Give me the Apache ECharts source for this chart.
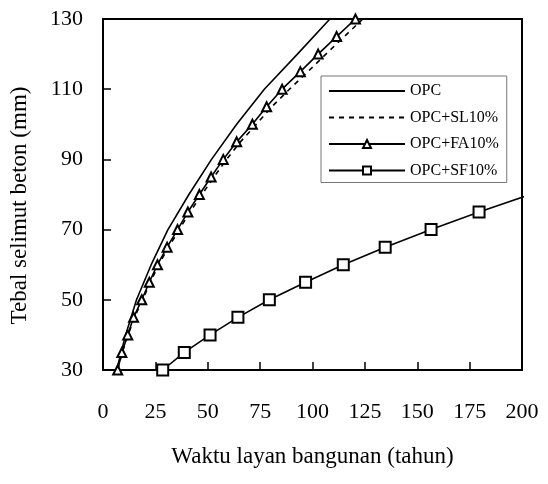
<!DOCTYPE html>
<html>
<head>
<meta charset="utf-8">
<script src="https://cdn.jsdelivr.net/npm/echarts@6/dist/echarts.min.js"></script>
<style>
    html, body { margin: 0; padding: 0; background: #fff; }
    #chart { width: 548px; height: 484px; }
</style>
</head>
<body>
<div id="chart"></div>
<script>
    // tebal selimut (mm) untuk FA dan SL
    var coverY = [30, 35, 40, 45, 50, 55, 60, 65, 70, 75, 80, 85, 90, 95, 100, 105, 110, 115, 120, 125, 130];
    var faX = [7.0, 9.0, 11.8, 14.6, 18.5, 22.1, 26.0, 30.6, 35.6, 40.5, 46.0, 51.6, 57.4, 63.8, 71.3, 78.1, 85.5, 94.2, 102.7, 111.5, 120.5];
    var slX = [7.0, 9.2, 12.0, 15.0, 18.9, 22.6, 26.6, 31.3, 36.4, 41.5, 47.2, 53.0, 59.0, 65.6, 73.2, 80.6, 89.0, 97.8, 106.4, 115.2, 124.0];

    // OPC tiap 10 mm
    var opcY = [30, 40, 50, 60, 70, 80, 90, 100, 110, 120, 130];
    var opcX = [6.5, 10.8, 16.0, 23.0, 31.0, 41.0, 51.8, 63.8, 77.0, 92.8, 108.3];

    // OPC+SF10%
    var sfY = [30, 35, 40, 45, 50, 55, 60, 65, 70, 75, 80];
    var sfX = [28.5, 38.8, 51.1, 64.4, 79.4, 96.7, 114.7, 134.7, 156.6, 179.5, 204];

    var xTicks = { min: 0, max: 200, interval: 25 };
    var yTicks = { min: 30, max: 130, interval: 20 };

    var font = "'Times New Roman', 'Liberation Serif', serif";

    function pairs(xs, ys) {
        var out = [];
        for (var i = 0; i < xs.length; i++) {
            out.push([xs[i], ys[i]]);
        }
        return out;
    }

    var sfData = pairs(sfX, sfY);
    // titik terakhir hanya garis, keluar sedikit dari kotak
    sfData[sfData.length - 1] = { value: sfData[sfData.length - 1], symbol: 'none' };

    var myChart = echarts.init(document.getElementById('chart'));
    var option = {
        backgroundColor: '#fff',
        animation: false,
        grid: {
            left: 103,
            right: 26,
            top: 19,
            bottom: 114,
            show: true,
            borderColor: '#000',
            borderWidth: 2
        },
        legend: {
            orient: 'vertical',
            left: 321,
            top: 76,
            padding: [7, 8, 4, 7],
            itemGap: 10.5,
            itemWidth: 76,
            itemHeight: 10,
            borderColor: '#777',
            borderWidth: 1,
            textStyle: { fontFamily: font, fontSize: 16, color: '#000' },
            data: [
                { name: 'OPC', itemStyle: { opacity: 0 } },
                { name: 'OPC+SL10%', itemStyle: { opacity: 0 } },
                'OPC+FA10%',
                'OPC+SF10%'
            ]
        },
        xAxis: {
            type: 'value',
            min: xTicks.min,
            max: xTicks.max,
            interval: xTicks.interval,
            name: 'Waktu layan bangunan (tahun)',
            nameLocation: 'middle',
            nameGap: 75,
            nameTextStyle: { fontFamily: font, fontSize: 23, color: '#000' },
            axisLine: { lineStyle: { color: '#000', width: 2 } },
            axisTick: { inside: true, length: 8, lineStyle: { color: '#000', width: 1.5 } },
            axisLabel: { fontFamily: font, fontSize: 22, color: '#000', margin: 31 },
            splitLine: { show: false }
        },
        yAxis: {
            type: 'value',
            min: yTicks.min,
            max: yTicks.max,
            interval: yTicks.interval,
            name: 'Tebal selimut beton (mm)',
            nameLocation: 'middle',
            nameGap: 72,
            nameTextStyle: { fontFamily: font, fontSize: 23, color: '#000', padding: [0, 22, 0, 0] },
            axisLine: { lineStyle: { color: '#000', width: 2 } },
            axisTick: { inside: true, length: 8, lineStyle: { color: '#000', width: 1.5 } },
            axisLabel: { fontFamily: font, fontSize: 22, color: '#000', margin: 20 },
            splitLine: { show: false }
        },
        series: [
            {
                name: 'OPC',
                type: 'line',
                symbol: 'none',
                lineStyle: { color: '#000', width: 1.6 },
                itemStyle: { color: '#000' },
                data: pairs(opcX, opcY)
            },
            {
                name: 'OPC+SL10%',
                type: 'line',
                symbol: 'none',
                lineStyle: { color: '#000', width: 1.6, type: [5, 5] },
                itemStyle: { color: '#000' },
                data: pairs(slX, coverY)
            },
            {
                name: 'OPC+FA10%',
                type: 'line',
                symbol: 'emptyTriangle',
                symbolSize: 9,
                lineStyle: { color: '#000', width: 1.6 },
                itemStyle: { color: '#000', borderColor: '#000', borderWidth: 1.5 },
                data: pairs(faX, coverY)
            },
            {
                name: 'OPC+SF10%',
                type: 'line',
                symbol: 'emptyRect',
                symbolSize: 11,
                clip: false,
                lineStyle: { color: '#000', width: 1.6 },
                itemStyle: { color: '#000', borderColor: '#000', borderWidth: 1.5 },
                data: sfData
            }
        ]
    };
    myChart.setOption(option);
</script>
</body>
</html>
